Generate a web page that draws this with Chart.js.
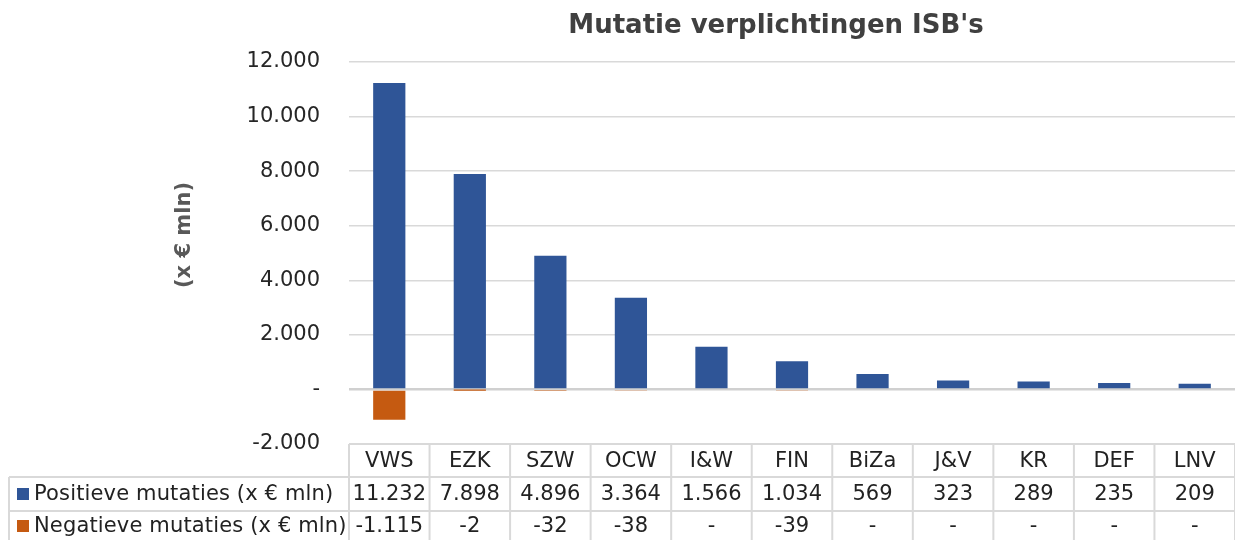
<!DOCTYPE html>
<html>
<head>
<meta charset="utf-8">
<script src="https://cdn.jsdelivr.net/npm/chart.js@4"></script>
<style>
  html, body { margin: 0; padding: 0; background: #fff; }
  #wrap { width: 1235px; height: 540px; position: relative; }
</style>
</head>
<body>
<div id="wrap"><canvas id="c" width="1235" height="540"></canvas></div>
<script>
const categories = ['VWS', 'EZK', 'SZW', 'OCW', 'I&W', 'FIN', 'BiZa', 'J&V', 'KR', 'DEF', 'LNV'];
const positiveValues = [11232, 7898, 4896, 3364, 1566, 1034, 569, 323, 289, 235, 209];
const negativeValues = [-1115, -2, -32, -38, 0, -39, 0, 0, 0, 0, 0];
const seriesNames = ['Positieve mutaties (x € mln)', 'Negatieve mutaties (x € mln)'];
const yTicks = [-2000, 0, 2000, 4000, 6000, 8000, 10000, 12000];
const chartTitle = "Mutatie verplichtingen ISB's";
const yTitle = '(x € mln)';

const FONT = 'DejaVu Sans';
const COLORS = ['#2F5597', '#C55A11'];
const TXT = '#404040';
const LINE = '#d9d9d9';

function fmt(v) {
  if (v === 0) return '-';
  const s = Math.abs(v).toString().replace(/\B(?=(\d{3})+(?!\d))/g, '.');
  return (v < 0 ? '-' : '') + s;
}

const extras = {
  id: 'extras',
  afterDraw(chart) {
    const ctx = chart.ctx;
    const x = chart.scales.x;
    const area = chart.chartArea;
    const n = categories.length;
    const cw = (area.right - area.left) / n;
    ctx.save();
    // Title
    ctx.fillStyle = TXT;
    ctx.font = 'bold 26px "' + FONT + '"';
    ctx.textAlign = 'center';
    ctx.textBaseline = 'middle';
    ctx.fillText(chartTitle, 776, 26);
    // Y title
    ctx.save();
    ctx.translate(185, 235);
    ctx.rotate(-Math.PI / 2);
    ctx.fillStyle = '#595959';
    ctx.font = 'bold 21px "' + FONT + '"';
    ctx.fillText(yTitle, 0, 0);
    ctx.restore();

    // Table
    const top = area.bottom;
    const r1 = 477, r2 = 511, bot = 545;
    const leftEdge = 9;
    ctx.strokeStyle = LINE;
    ctx.lineWidth = 2;
    ctx.beginPath();
    ctx.moveTo(area.left, top); ctx.lineTo(area.right, top);
    ctx.moveTo(leftEdge, r1); ctx.lineTo(area.right, r1);
    ctx.moveTo(leftEdge, r2); ctx.lineTo(area.right, r2);
    ctx.moveTo(leftEdge, r1); ctx.lineTo(leftEdge, bot);
    for (let i = 0; i <= n; i++) {
      const bx = i < n ? x.getPixelForValue(i) - cw / 2 : x.getPixelForValue(n - 1) + cw / 2;
      ctx.moveTo(bx, top); ctx.lineTo(bx, bot);
    }
    ctx.stroke();

    ctx.font = '21px "' + FONT + '"';
    ctx.fillStyle = '#222';
    ctx.textAlign = 'center';
    ctx.textBaseline = 'middle';
    const rows = [positiveValues, negativeValues];
    for (let i = 0; i < n; i++) {
      const cx = x.getPixelForValue(i);
      ctx.fillText(categories[i], cx, (top + r1) / 2 + 1);
      ctx.fillText(fmt(rows[0][i]), cx, (r1 + r2) / 2 + 1);
      ctx.fillText(fmt(rows[1][i]), cx, (r2 + bot) / 2 - 1);
    }
    // legend keys
    const rowMids = [(r1 + r2) / 2, (r2 + bot) / 2 - 2];
    ctx.textAlign = 'left';
    ctx.letterSpacing = '0.15px';
    for (let k = 0; k < 2; k++) {
      ctx.fillStyle = COLORS[k];
      ctx.fillRect(17, rowMids[k] - 6, 12, 12);
      ctx.fillStyle = '#222';
      ctx.fillText(seriesNames[k], 34, rowMids[k] + 1);
    }
    ctx.letterSpacing = '0px';
    ctx.restore();
  }
};

new Chart(document.getElementById('c'), {
  type: 'bar',
  data: {
    labels: categories,
    datasets: [
      { label: seriesNames[0], data: positiveValues, backgroundColor: COLORS[0], barPercentage: 0.4, categoryPercentage: 1.0 },
      { label: seriesNames[1], data: negativeValues, backgroundColor: COLORS[1], barPercentage: 0.4, categoryPercentage: 1.0 }
    ]
  },
  options: {
    responsive: false,
    animation: false,
    devicePixelRatio: 1,
    layout: { padding: { top: 62, bottom: 96, left: 0, right: 0 } },
    plugins: { legend: { display: false }, title: { display: false }, tooltip: { enabled: false } },
    scales: {
      x: { stacked: true, display: false },
      y: {
        stacked: true,
        min: yTicks[0],
        max: yTicks[yTicks.length - 1],
        afterBuildTicks(s) { s.ticks = yTicks.map(v => ({ value: v })); },
        afterFit(s) { s.width = 349; },
        border: { display: false },
        grid: {
          drawTicks: false,
          color: ctx => ctx.tick && ctx.tick.value === 0 ? '#d0d0d0' : LINE,
          lineWidth: ctx => ctx.tick && ctx.tick.value === 0 ? 2.5 : 1.5
        },
        ticks: {
          padding: 29,
          color: '#262626',
          font: { family: FONT, size: 21 },
          callback: v => fmt(v)
        }
      }
    }
  },
  plugins: [extras]
});
</script>
</body>
</html>
